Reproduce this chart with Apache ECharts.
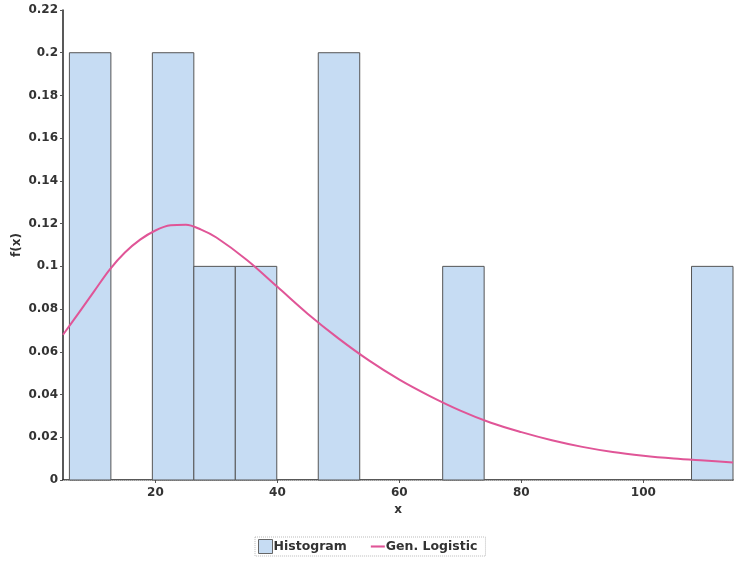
<!DOCTYPE html>
<html>
<head>
<meta charset="utf-8">
<script src="https://cdn.jsdelivr.net/npm/echarts@6/dist/echarts.min.js"></script>
<style>
html,body{margin:0;padding:0;background:#fff;}
#chart{width:737px;height:564px;}
</style>
</head>
<body>
<div id="chart"></div>
<script>
// Histogram bins (start x, end x) and relative frequencies
var binStarts = [5.9, 12.7, 19.5, 26.3, 33.1, 39.9, 46.7, 53.5, 60.3, 67.1, 73.9, 80.7, 87.5, 94.3, 101.1, 107.9];
var binEnds   = [12.7, 19.5, 26.3, 33.1, 39.9, 46.7, 53.5, 60.3, 67.1, 73.9, 80.7, 87.5, 94.3, 101.1, 107.9, 114.7];
var binFreqs  = [0.2, 0, 0.2, 0.1, 0.1, 0, 0.2, 0, 0, 0.1, 0, 0, 0, 0, 0, 0.1];

// Gen. Logistic fitted density
var curveX = [4.85, 7.5, 10, 12.5, 15, 17.5, 20, 22.5, 25, 27.5, 30, 35, 40, 45, 50, 55, 60, 65, 70, 75, 80, 85, 90, 95, 100, 105, 110, 114.7];
var curveY = [0.068, 0.0785, 0.0885, 0.0985, 0.1065, 0.1125, 0.1168, 0.1192, 0.1195, 0.1172, 0.1135, 0.103, 0.0904, 0.0777, 0.0663, 0.056, 0.047, 0.0393, 0.0325, 0.0268, 0.0224, 0.0186, 0.0155, 0.0131, 0.0114, 0.0101, 0.0091, 0.0082];

var xTicks = [20, 40, 60, 80, 100];
var yTicks = [0, 0.02, 0.04, 0.06, 0.08, 0.1, 0.12, 0.14, 0.16, 0.18, 0.2, 0.22];
var xMin = 4.85, xMax = 114.7;

var histData = binStarts.map(function(s, i){ return [s, binEnds[i], binFreqs[i]]; });
var curveData = curveX.map(function(x, i){ return [x, curveY[i]]; });

var chart = echarts.init(document.getElementById('chart'));
var FONT = 'DejaVu Sans, Verdana, sans-serif';
var labelFont = {fontFamily: FONT, fontSize: 12, fontWeight: 'bold', color: '#333'};

chart.setOption({
  animation: false,
  backgroundColor: '#fff',
  grid: {left: 63, right: 4, top: 10, bottom: 84, containLabel: false, outerBoundsMode: 'none'},
  legend: {
    left: 255, top: 537,
    itemGap: 24, itemWidth: 14, itemHeight: 14,
    padding: [2, 8, 2, 3],
    borderColor: '#bbb', borderWidth: 1, borderType: 'dotted',
    textStyle: {fontFamily: FONT, fontSize: 12.5, fontWeight: 'bold', color: '#333', padding: [0,0,0,-4]},
    data: [
      {name: 'Histogram', icon: 'rect', itemStyle: {color: '#c6dcf3', borderColor: '#666', borderWidth: 1}},
      {name: 'Gen. Logistic', icon: 'path://M0,0 L16,0 L16,2.4 L0,2.4 Z', itemStyle: {color: '#e05597'}}
    ]
  },
  xAxis: [{
    type: 'value', min: xMin, max: xMax,
    name: 'x', nameLocation: 'middle', nameGap: 24, nameMoveOverlap: false,
    nameTextStyle: labelFont,
    axisLine: {show: true, onZero: false, lineStyle: {color: '#222', width: 1.5}},
    axisTick: {show: true, length: 3, customValues: xTicks, lineStyle: {color: '#555'}},
    axisLabel: Object.assign({margin: 7, customValues: xTicks}, labelFont),
    splitLine: {show: false}
  }, {
    type: 'value', min: xMin, max: xMax, position: 'top',
    axisLine: {show: true, lineStyle: {color: '#bbb', type: 'dotted', width: 1}},
    axisTick: {show: false}, axisLabel: {show: false}, splitLine: {show: false}
  }],
  yAxis: {
    type: 'value', min: 0, max: 0.22, interval: 0.02,
    name: 'f(x)', nameLocation: 'middle', nameGap: 40, nameRotate: 90, nameMoveOverlap: false,
    nameTextStyle: labelFont,
    axisLine: {show: true, lineStyle: {color: '#222', width: 1.5}},
    axisTick: {show: true, length: 3, lineStyle: {color: '#555'}},
    axisLabel: Object.assign({margin: 5, formatter: function(v){
      var t = yTicks.reduce(function(a,b){ return Math.abs(b-v) < Math.abs(a-v) ? b : a; });
      return String(t);
    }}, labelFont),
    splitLine: {show: false}
  },
  series: [{
    name: 'Histogram',
    type: 'custom',
    xAxisIndex: 0,
    encode: {x: [0, 1], y: 2},
    data: histData,
    itemStyle: {color: '#c6dcf3', borderColor: '#555'},
    renderItem: function(params, api){
      var v = api.value(2);
      if (!v) return null;
      var p0 = api.coord([api.value(0), v]);
      var p1 = api.coord([api.value(1), 0]);
      return {
        type: 'rect',
        shape: {x: p0[0], y: p0[1], width: p1[0] - p0[0], height: p1[1] - p0[1]},
        style: {fill: '#c6dcf3', stroke: '#555', lineWidth: 1}
      };
    },
    z: 2
  }, {
    name: 'Gen. Logistic',
    type: 'line',
    data: curveData,
    smooth: 0.35,
    showSymbol: false,
    lineStyle: {color: '#e05597', width: 2},
    itemStyle: {color: '#e05597'},
    z: 5
  }]
});
</script>
</body>
</html>
